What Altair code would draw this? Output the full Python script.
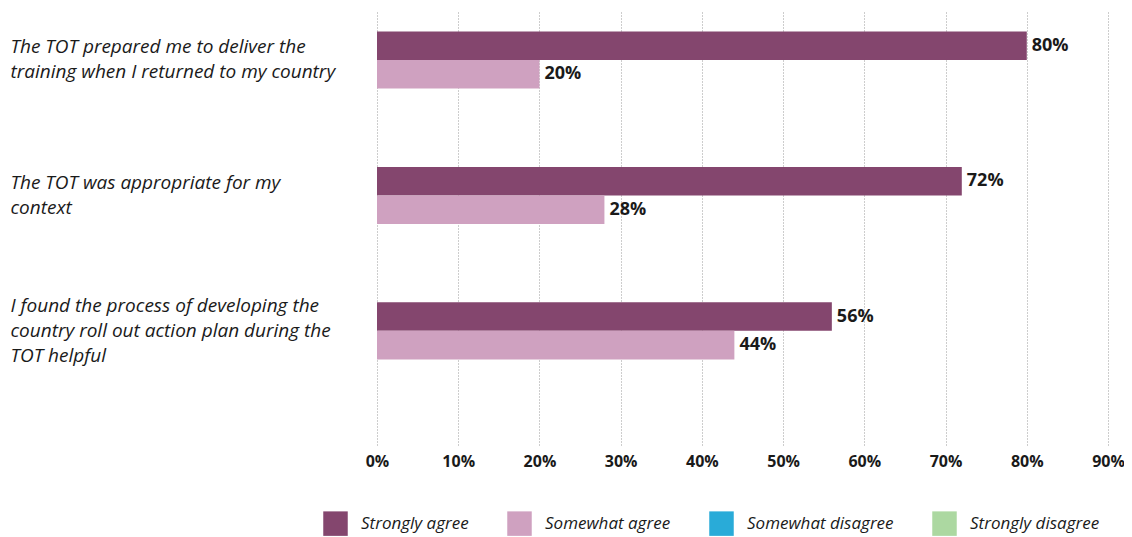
import altair as alt
import pandas as pd

questions = [
    "The TOT prepared me to deliver the|training when I returned to my country",
    "The TOT was appropriate for my|context",
    "I found the process of developing the|country roll out action plan during the|TOT helpful",
]
series = ["Strongly agree", "Somewhat agree", "Somewhat disagree", "Strongly disagree"]
strongly_agree = [0.80, 0.72, 0.56]
somewhat_agree = [0.20, 0.28, 0.44]
somewhat_disagree = [0.0, 0.0, 0.0]
strongly_disagree = [0.0, 0.0, 0.0]
x_ticks = [0.0, 0.1, 0.2, 0.3, 0.4, 0.5, 0.6, 0.7, 0.8, 0.9]
colors = ["#84466E", "#CFA1C0", "#29ABD8", "#ACD8A1"]

rows = []
for vals, s in zip([strongly_agree, somewhat_agree, somewhat_disagree, strongly_disagree], series):
    for q, v in zip(questions, vals):
        rows.append({"question": q, "series": s, "value": v})
df = pd.DataFrame(rows)

FONT = "Open Sans"

y_enc = alt.Y(
    "question:N",
    sort=questions,
    title=None,
    scale=alt.Scale(paddingInner=0.579, paddingOuter=0.395, align=0.2),
    axis=alt.Axis(
        labelExpr="split(datum.label, '|')",
        labelAlign="left",
        labelBaseline="middle",
        labelPadding=367,
        labelOffset={
            "condition": {"test": "length(split(datum.label, '|')) >= 3", "value": -25},
            "value": -12.5,
        },
        labelFont=FONT,
        labelFontStyle="italic",
        labelFontSize=19,
        labelLineHeight=25,
        labelColor="#1a1a1a",
        labelLimit=400,
        ticks=False,
        tickSize=0,
        domain=False,
        grid=False,
    ),
)
yoff_enc = alt.YOffset("series:N", scale=alt.Scale(domain=series[:2]))

x_enc = alt.X(
    "value:Q",
    title=None,
    scale=alt.Scale(domain=[0, 0.9], nice=False),
    axis=alt.Axis(
        values=x_ticks,
        format=".0%",
        labelFont=FONT,
        labelFontWeight="bold",
        labelFontSize=16,
        labelColor="#1a1a1a",
        labelPadding=8,
        labelFlush=False,
        ticks=False,
        tickSize=0,
        domain=False,
        grid=True,
        gridColor="#9a9a9a",
        gridDash=[1, 2],
        gridWidth=1,
    ),
)

color_enc = alt.Color(
    "series:N",
    scale=alt.Scale(domain=series, range=colors),
    title=None,
    legend=alt.Legend(
        orient="none",
        legendX=-54,
        legendY=501,
        direction="horizontal",
        columns=4,
        symbolType="square",
        symbolSize=600,
        symbolStrokeWidth=0,
        symbolOpacity=1,
        labelFont=FONT,
        labelFontStyle="italic",
        labelFontSize=17,
        labelColor="#1a1a1a",
        labelOffset=13,
        columnPadding=38,
        padding=0,
        labelLimit=300,
    ),
)

base = alt.Chart(df).transform_filter("datum.value > 0")

bars = base.mark_bar().encode(
    x=x_enc, y=y_enc, yOffset=yoff_enc, color=color_enc
)
labels = base.mark_text(
    align="left", baseline="middle", dx=5, font=FONT, fontWeight="bold",
    fontSize=18, color="#1a1a1a"
).encode(
    x="value:Q",
    y=alt.Y("question:N", sort=questions),
    yOffset=yoff_enc,
    text=alt.Text("value:Q", format=".0%"),
)

chart = (
    alt.layer(bars, labels)
    .properties(
        width=731,
        height=435,
        background="white",
        autosize=alt.AutoSizeParams(type="none"),
        padding={"left": 369, "top": 2, "right": 16, "bottom": 92},
    )
    .configure_view(strokeWidth=0, strokeOpacity=0)
)

chart.save("out.html", embed_options={"renderer": "svg", "actions": False})
